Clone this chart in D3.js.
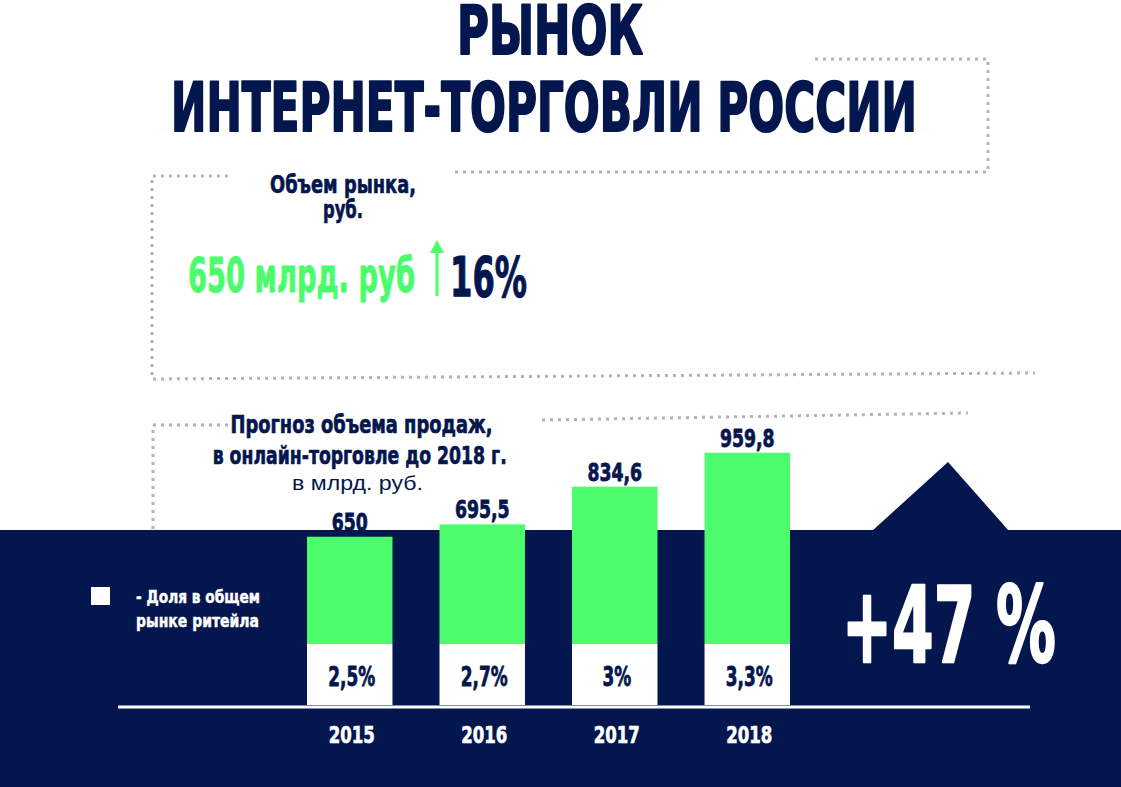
<!DOCTYPE html>
<html><head><meta charset="utf-8">
<script src="https://cdn.jsdelivr.net/npm/d3@7"></script>
<style>body{margin:0;background:#fff}svg{display:block}</style>
</head><body>
<svg id="c" width="1121" height="787"></svg>
<script>
// ---- data ----
const years = ["2015", "2016", "2017", "2018"];
const volumes = [650, 695.5, 834.6, 959.8];
const volumeLabels = ["650", "695,5", "834,6", "959,8"];
const shares = ["2,5%", "2,7%", "3%", "3,3%"];
const titleLines = ["РЫНОК", "ИНТЕРНЕТ-ТОРГОВЛИ РОССИИ"];
const marketTitle = ["Объем рынка,", "руб."];
const marketValue = "650 млрд. руб";
const marketGrowth = "16%";
const forecastTitle = ["Прогноз объема продаж,", "в онлайн-торговле до 2018 г."];
const forecastUnit = "в млрд. руб.";
const legendLines = ["- Доля в общем", "рынке ритейла"];
const totalGrowth = "+47 %";

// ---- style ----
const NAVY = "#04164e", GREEN = "#4cfc6c", GREY = "#b4b4b4";
const HEAVY = "'DejaVu Sans', 'Liberation Sans', sans-serif";

const svg = d3.select("#c");
svg.append("rect").attr("width", 1121).attr("height", 787).attr("fill", "#fff");

function textAt(g, str, left, baseline, size, width, color, opts = {}) {
  const t = g.append("text")
    .attr("x", left).attr("y", baseline)
    .attr("font-family", opts.family || HEAVY)
    .attr("font-weight", opts.weight || "bold")
    .attr("font-size", size)
    .attr("fill", color)
    .text(str);
  if (opts.stroke) t.attr("stroke", color).attr("stroke-width", opts.stroke).attr("stroke-linejoin", "round");
  if (width) t.attr("textLength", width).attr("lengthAdjust", "spacingAndGlyphs");
  return t;
}
function centered(g, str, cx, baseline, size, width, color, opts) {
  return textAt(g, str, cx - width / 2, baseline, size, width, color, opts);
}
// squeeze data-driven labels around a centre
function squeezeCentered(sel, factor, cxFn) {
  sel.each(function (d, i) {
    const n = this.getComputedTextLength() * factor;
    d3.select(this).attr("text-anchor", "start")
      .attr("x", cxFn(d, i) - n / 2)
      .attr("textLength", n).attr("lengthAdjust", "spacingAndGlyphs");
  });
}

// ---- dotted frames ----
const dots = svg.append("g").attr("fill", "none").attr("stroke", GREY)
  .attr("stroke-width", 3).attr("stroke-dasharray", "3 5");
const line = d3.line();
[
  [[815, 59], [988, 59], [988, 172], [455, 172]],
  [[228, 176], [152, 176], [152, 379], [1035, 373]],
  [[228, 425], [153, 425], [153, 530]],
  [[542, 420], [968, 413]]
].forEach(p => dots.append("path").attr("d", line(p)));

// ---- title ----
const tg = svg.append("g");
centered(tg, titleLines[0], 550, 54, 67, 186, NAVY, { stroke: 2.2 });
centered(tg, titleLines[1], 544, 131, 67, 746, NAVY, { stroke: 2.2 });

// ---- market box ----
const mg = svg.append("g");
centered(mg, marketTitle[0], 343, 193, 25, 146, NAVY, { stroke: 0.7 });
centered(mg, marketTitle[1], 343, 218, 25, 40, NAVY, { stroke: 0.7 });
textAt(mg, marketValue, 188, 292, 48, 227, GREEN, { stroke: 1 });
mg.append("line").attr("x1", 437).attr("x2", 437).attr("y1", 296).attr("y2", 248)
  .attr("stroke", GREEN).attr("stroke-width", 3);
mg.append("path").attr("d", "M430,253 L437,240 L444,253 Z").attr("fill", GREEN);
textAt(mg, marketGrowth, 450, 296, 55, 77, NAVY, { stroke: 1.2 });

// ---- forecast heading ----
const fg = svg.append("g");
centered(fg, forecastTitle[0], 361.5, 433, 24, 262, NAVY, { stroke: 0.7 });
centered(fg, forecastTitle[1], 359.7, 464, 24, 294, NAVY, { stroke: 0.7 });
centered(fg, forecastUnit, 357.5, 490, 21, 131, NAVY,
  { family: "'Liberation Sans', Arial, sans-serif", weight: "normal" });

// ---- scales ----
const data = years.map((yr, i) => ({ year: yr, v: volumes[i], label: volumeLabels[i], share: shares[i] }));
const x = d3.scaleBand().domain(years).range([280.5, 816.5]).paddingInner(0.355).paddingOuter(0.2);
const y = d3.scaleLinear().domain([0, 1000]).range([713, 441.8]);
const SPLIT = 644, BASE = 705;
const cx = d => x(d.year) + x.bandwidth() / 2;

// value labels (drawn before the band so the lowest one tucks behind it)
const vl = svg.append("g").selectAll("text").data(data).join("text")
  .attr("y", d => y(d.v) - 6)
  .attr("font-family", HEAVY).attr("font-weight", "bold").attr("font-size", 24)
  .attr("fill", NAVY).attr("stroke", NAVY).attr("stroke-width", 0.8)
  .text(d => d.label);
squeezeCentered(vl, 0.72, cx);

// ---- navy band ----
svg.append("rect").attr("x", 0).attr("y", 530).attr("width", 1121).attr("height", 257).attr("fill", NAVY);
svg.append("path").attr("d", "M872,531 L948,462 L1009,531 Z").attr("fill", NAVY);

// ---- bars ----
const bars = svg.append("g");
bars.selectAll("rect.g").data(data).join("rect").attr("class", "g")
  .attr("x", d => x(d.year)).attr("width", x.bandwidth())
  .attr("y", d => y(d.v)).attr("height", d => SPLIT - y(d.v))
  .attr("fill", GREEN);
bars.selectAll("rect.w").data(data).join("rect").attr("class", "w")
  .attr("x", d => x(d.year)).attr("width", x.bandwidth())
  .attr("y", SPLIT).attr("height", BASE - SPLIT)
  .attr("fill", "#fff");
const sl = bars.selectAll("text").data(data).join("text")
  .attr("y", 686)
  .attr("font-family", HEAVY).attr("font-weight", "bold").attr("font-size", 26)
  .attr("fill", NAVY).attr("stroke", NAVY).attr("stroke-width", 0.8)
  .text(d => d.share);
squeezeCentered(sl, 0.65, d => cx(d) + 2);

// axis line
svg.append("line").attr("x1", 118).attr("x2", 1030).attr("y1", 707).attr("y2", 707)
  .attr("stroke", "#fff").attr("stroke-width", 3);

// year labels via axis
const ax = svg.append("g").attr("transform", "translate(0,720)")
  .call(d3.axisBottom(x).tickSize(0).tickPadding(0));
ax.select(".domain").remove();
ax.selectAll("text").attr("fill", "#fff").attr("stroke", "#fff").attr("stroke-width", 0.7)
  .attr("font-family", HEAVY)
  .attr("font-weight", "bold").attr("font-size", 23).attr("dy", 0).attr("y", 23);
ax.selectAll(".tick").each(function (d) {
  const t = d3.select(this).select("text").node();
  const n = t.getComputedTextLength() * 0.72;
  d3.select(t).attr("text-anchor", "start").attr("x", 2 - n / 2)
    .attr("textLength", n).attr("lengthAdjust", "spacingAndGlyphs");
});

// ---- legend ----
const lg = svg.append("g");
lg.append("rect").attr("x", 91).attr("y", 587).attr("width", 19).attr("height", 18).attr("fill", "#fff");
textAt(lg, legendLines[0], 136, 603, 18, 124, "#fff", { stroke: 0.5 });
textAt(lg, legendLines[1], 136, 627, 18, 123, "#fff", { stroke: 0.5 });

// ---- +47 % ----
textAt(svg, totalGrowth, 842, 662, 105, 214, "#fff", { stroke: 2.5 });
</script>
</body></html>
